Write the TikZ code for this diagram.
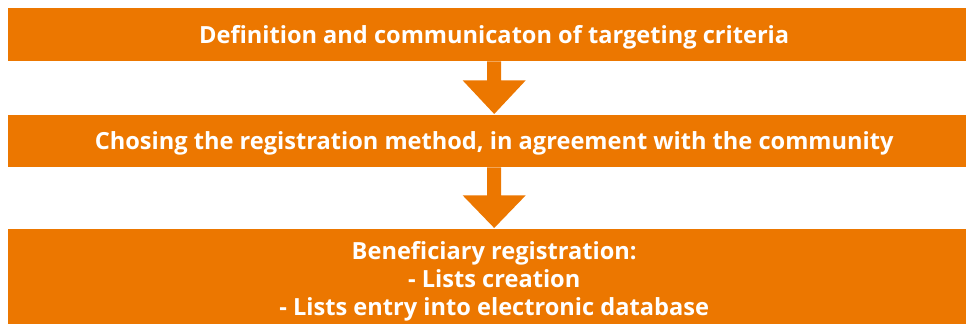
\documentclass[tikz,border=0pt]{standalone}
\usepackage{fontspec}
\setmainfont{Open Sans}
\usetikzlibrary{calc}
\definecolor{barorange}{RGB}{236,119,0}
\begin{document}
\begin{tikzpicture}[x=1pt,y=-1pt]
\tikzset{
  bar/.style={fill=barorange, draw=none, inner sep=0pt, minimum width=972pt, anchor=north west},
  lbl/.style={inner sep=0pt, anchor=base, text=white, font=\bfseries\fontsize{23.6}{28}\selectfont, align=center},
  blockarrow/.style={fill=barorange, draw=none}
}
\useasboundingbox (0,0) rectangle (966,324);
\node[bar, minimum height=53pt] (b1) at (8,8) {};
\node[bar, minimum height=52pt] (b2) at (8,115) {};
\node[bar, minimum height=95pt] (b3) at (8,229) {};
\node[lbl] (l1) at ($(b1.north)+(0,35)$) {Definition and communicaton of targeting criteria};
\node[lbl] (l2) at ($(b2.north)+(0,34.5)$) {Chosing the registration method, in agreement with the community};
\node[lbl] (l3) at ($(b3.north)+(0,86)$) {Beneficiary registration:\\- Lists creation\\- Lists entry into electronic database};
\fill[blockarrow] ($(b1.south)+(-7,0)$) -- ($(b1.south)+(-7,19)$) -- ($(b1.south)+(-31.5,19)$)
  -- ($(b2.north)+(0,-1)$) -- ($(b1.south)+(31.5,19)$) -- ($(b1.south)+(7,19)$) -- ($(b1.south)+(7,0)$) -- cycle;
\fill[blockarrow] ($(b2.south)+(-7,0)$) -- ($(b2.south)+(-7,28)$) -- ($(b2.south)+(-31.5,28)$)
  -- ($(b3.north)+(0,-1)$) -- ($(b2.south)+(31.5,28)$) -- ($(b2.south)+(7,28)$) -- ($(b2.south)+(7,0)$) -- cycle;
\end{tikzpicture}
\end{document}
